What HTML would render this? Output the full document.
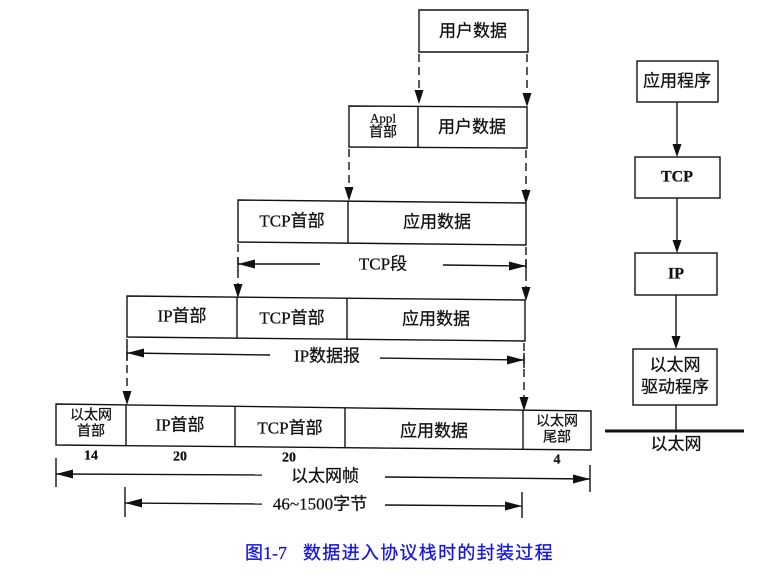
<!DOCTYPE html>
<html><head><meta charset="utf-8"><style>
html,body{margin:0;padding:0;background:#fff;}
svg{display:block;}
.t{font-family:"Liberation Serif","Noto Sans CJK SC",serif;font-size:17px;fill:#111;stroke:#111;stroke-width:0.25;}
.s{font-size:14px;}
.b{font-weight:bold;}
</style></head><body>
<svg width="780" height="575" viewBox="0 0 780 575" xmlns="http://www.w3.org/2000/svg">
<g fill="none" stroke="#111" stroke-width="1.4">
<!-- boxes -->
<polygon points="419,10 528,10 528,52 419,52"/>
<polygon points="349,106 527,107 527,148 349,147"/>
<line x1="418" y1="106" x2="418" y2="148"/>
<polygon points="238,200 526,203 526,245 238,242"/>
<line x1="348" y1="201" x2="348" y2="243"/>
<polygon points="127,296 525,300 525,341 127,337"/>
<line x1="237" y1="297" x2="237" y2="338"/>
<line x1="347" y1="298" x2="347" y2="339"/>
<polygon points="56,404 591,411 591,450 56,445"/>
<line x1="126" y1="405" x2="126" y2="446"/>
<line x1="235" y1="406" x2="235" y2="447"/>
<line x1="345" y1="408" x2="345" y2="448"/>
<line x1="523" y1="410" x2="523" y2="450"/>
<!-- dashed -->
<g stroke-dasharray="8,5">
<line x1="419" y1="54" x2="419" y2="92"/>
<line x1="527" y1="54" x2="527" y2="95"/>
<line x1="349" y1="149" x2="349" y2="189"/>
<line x1="526" y1="150" x2="526" y2="192"/>
<line x1="238" y1="244" x2="238" y2="286"/>
<line x1="526" y1="247" x2="526" y2="289"/>
<line x1="127" y1="339" x2="127" y2="394"/>
<line x1="524" y1="343" x2="524" y2="400"/>
</g>
<!-- horizontal arrow lines -->
<line x1="238" y1="264" x2="320" y2="264"/>
<line x1="443" y1="265" x2="526" y2="266"/>
<line x1="127" y1="353" x2="270" y2="355"/>
<line x1="380" y1="358" x2="524" y2="360"/>
<line x1="56" y1="474" x2="262" y2="475"/>
<line x1="385" y1="477" x2="590" y2="479"/>
<line x1="56" y1="458" x2="56" y2="487"/>
<line x1="590" y1="465" x2="590" y2="492"/>
<line x1="125" y1="503" x2="262" y2="504"/>
<line x1="385" y1="505" x2="522" y2="506"/>
<line x1="125" y1="487" x2="125" y2="517"/>
<line x1="522" y1="492" x2="522" y2="518"/>
<line x1="238" y1="257" x2="238" y2="271"/>
<line x1="526" y1="259" x2="526" y2="273"/>
<line x1="127" y1="346" x2="127" y2="361"/>
<line x1="524" y1="353" x2="524" y2="368"/>
<!-- right stack -->
<rect x="637" y="61" width="81" height="41"/>
<rect x="635" y="157" width="85" height="41"/>
<rect x="635" y="253" width="82" height="42"/>
<rect x="633" y="349" width="84" height="56"/>
<line x1="677" y1="102" x2="677" y2="146"/>
<line x1="677" y1="198" x2="677" y2="242"/>
<line x1="676" y1="295" x2="676" y2="338"/>
<line x1="676" y1="405" x2="676" y2="431"/>
<line x1="605" y1="431" x2="744" y2="431" stroke-width="3"/>
</g>
<g fill="#111">
<!-- down arrows -->
<polygon points="414.5,90 423.5,90 419,104"/>
<polygon points="522.5,93 531.5,93 527,107"/>
<polygon points="344.5,187 353.5,187 349,201"/>
<polygon points="521.5,190 530.5,190 526,204"/>
<polygon points="233.5,284 242.5,284 238,298"/>
<polygon points="521.5,287 530.5,287 526,301"/>
<polygon points="122.5,391 131.5,391 127,405"/>
<polygon points="519.5,397 528.5,397 524,411"/>
<polygon points="672.5,144 681.5,144 677,157"/>
<polygon points="672.5,240 681.5,240 677,253"/>
<polygon points="671.5,336 680.5,336 676,349"/>
<!-- horizontal arrowheads -->
<polygon points="238,264 255,259.5 255,268.5"/>
<polygon points="526,266 509,261.5 509,270.5"/>
<polygon points="127,353 144,348.5 144,357.5"/>
<polygon points="524,360 507,355.5 507,364.5"/>
<polygon points="56,474 73,469.5 73,478.5"/>
<polygon points="590,479 573,474.5 573,483.5"/>
<polygon points="125,503 142,498.5 142,507.5"/>
<polygon points="522,506 505,501.5 505,510.5"/>
</g>
<g class="t" text-anchor="middle" dominant-baseline="central">
<text x="473" y="31">用户数据</text>
<text x="383" y="118" style="font-size:13px">Appl</text>
<text x="383" y="133" class="s">首部</text>
<text x="472" y="127">用户数据</text>
<text x="292" y="221">TCP首部</text>
<text x="437" y="222">应用数据</text>
<text x="182" y="316">IP首部</text>
<text x="292" y="318">TCP首部</text>
<text x="436" y="319">应用数据</text>
<text x="383" y="264">TCP段</text>
<text x="327" y="356">IP数据报</text>
<text x="91" y="416" class="s">以太网</text>
<text x="91" y="432" class="s">首部</text>
<text x="180" y="425">IP首部</text>
<text x="290" y="428">TCP首部</text>
<text x="434" y="431">应用数据</text>
<text x="557" y="422" class="s">以太网</text>
<text x="557" y="438" class="s">尾部</text>
<text x="91" y="456" class="b" style="font-size:14px">14</text>
<text x="180" y="457" class="b" style="font-size:14px">20</text>
<text x="289" y="458" class="b" style="font-size:14px">20</text>
<text x="557" y="460" class="b" style="font-size:14px">4</text>
<text x="325" y="476">以太网帧</text>
<text x="320" y="504">46~1500字节</text>
<text x="677" y="81">应用程序</text>
<text x="677" y="177" class="b" style="font-size:16px">TCP</text>
<text x="676" y="274" class="b" style="font-size:16px">IP</text>
<text x="675" y="365">以太网</text>
<text x="675" y="387">驱动程序</text>
<text x="676" y="444">以太网</text>
</g>
<text x="245" y="559" style="font-family:'Liberation Serif','Noto Sans CJK SC',serif;font-size:18px;fill:#1414e6;stroke:#1414e6;stroke-width:0.3">图1-7<tspan x="303" style="letter-spacing:1.3px">数据进入协议栈时的封装过程</tspan></text>
</svg>
</body></html>
